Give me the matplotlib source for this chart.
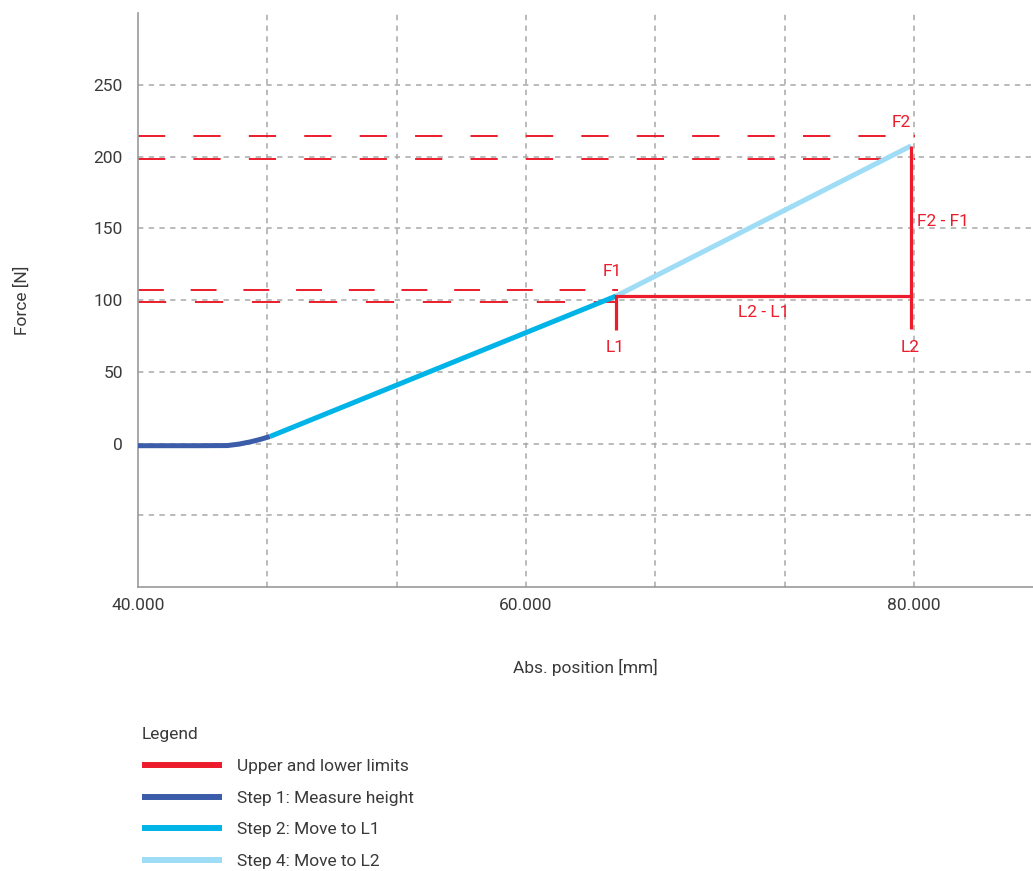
import matplotlib.pyplot as plt
import numpy as np

plt.rcParams['font.family'] = ['Roboto', 'DejaVu Sans']

step1_x = [40.0, 41.5, 43.0, 44.6, 45.2, 45.8, 46.3, 46.8]
step1_y = [-1.5, -1.5, -1.5, -1.4, -0.4, 1.2, 2.9, 4.9]
step2_x = [46.8, 64.64]
step2_y = [4.9, 102.8]
step4_x = [64.64, 79.85]
step4_y = [102.8, 207.5]

# limits
L1, L2 = 64.64, 79.85
F1, F2 = 102.8, 207.5
F1_lo, F1_hi = 98.5, 107.0
F2_lo, F2_hi = 198.5, 214.5
L1_low, L2_low = 79.0, 80.0

xticks = [40, 60, 80]
xtick_labels = ['40.000', '60.000', '80.000']
yticks = [0, 50, 100, 150, 200, 250]

red = '#ec1c2c'
dark_blue = '#3a5ca9'
cyan = '#00b4e8'
light_blue = '#9fdcf6'
grid_col = '#a8a8a8'
text_col = '#3a3a3a'
fs = 12.5

fig = plt.figure(figsize=(10.33, 8.71), dpi=100)
ax = fig.add_axes([0.1336, 0.326, 0.8664, 0.659])
ax.set_xlim(40, 86.13)
ax.set_ylim(-100, 300)

# grid
for gx in np.arange(40 + 20 / 3, 86, 20 / 3):
    ax.axvline(gx, color=grid_col, lw=1.1, dashes=(3.5, 3.5), zorder=0)
for gy in np.arange(-50, 251, 50):
    ax.axhline(gy, color=grid_col, lw=1.1, dashes=(3.5, 3.5), zorder=0)

# limit bands
ax.plot([40, L2 + 0.2], [F2_hi, F2_hi], color=red, lw=1.4, dashes=(14, 14.5), zorder=2)
ax.plot([40, L2 + 0.2], [F2_lo, F2_lo], color=red, lw=1.4, dashes=(14, 14.5), zorder=2)
ax.plot([40, L1 + 0.1], [F1_hi, F1_hi], color=red, lw=1.4, dashes=(13.3, 13.8), zorder=2)
ax.plot([40, L1 + 0.1], [F1_lo, F1_lo], color=red, lw=1.4, dashes=(14.5, 14.8), zorder=2)

# curve
ax.plot(step1_x, step1_y, color=dark_blue, lw=3.6, solid_capstyle='butt', zorder=3)
ax.plot(step2_x, step2_y, color=cyan, lw=3.6, solid_capstyle='butt', zorder=3)
ax.plot(step4_x, step4_y, color=light_blue, lw=3.6, solid_capstyle='butt', zorder=3)

# L / F markers
ax.plot([L1, L2], [F1, F1], color=red, lw=2.3, zorder=4)
ax.plot([L1, L1], [L1_low, F1], color=red, lw=2.3, solid_capstyle='butt', zorder=4)
ax.plot([L2, L2], [L2_low, F2], color=red, lw=2.3, solid_capstyle='butt', zorder=4)

ax.text(L1 - 0.2, 120, 'F1', color=red, fontsize=fs, ha='center', va='center')
ax.text(L1 - 0.05, 67, 'L1', color=red, fontsize=fs, ha='center', va='center')
ax.text(L2 - 0.5, 224, 'F2', color=red, fontsize=fs, ha='center', va='center')
ax.text(L2 - 0.05, 67, 'L2', color=red, fontsize=fs, ha='center', va='center')
ax.text(L2 + 0.3, 155, 'F2 - F1', color=red, fontsize=fs, ha='left', va='center')
ax.text((L1 + L2) / 2, 91, 'L2 - L1', color=red, fontsize=fs, ha='center', va='center')

# axes styling
for s in ['top', 'right']:
    ax.spines[s].set_visible(False)
for s in ['left', 'bottom']:
    ax.spines[s].set_color('#999999')
    ax.spines[s].set_linewidth(1.2)
ax.set_xticks(xticks)
ax.set_xticklabels(xtick_labels)
ax.set_yticks(yticks)
ax.tick_params(length=0, labelsize=fs, colors=text_col, pad=8)
ax.tick_params(axis='y', pad=11)
ax.set_xlabel('Abs. position [mm]', fontsize=fs, color=text_col, labelpad=33)
ax.set_ylabel('Force [N]', fontsize=fs, color=text_col, labelpad=46)

# legend
handles = [
    plt.Line2D([], [], color=red, lw=4.3, solid_capstyle='butt'),
    plt.Line2D([], [], color=dark_blue, lw=4.3, solid_capstyle='butt'),
    plt.Line2D([], [], color=cyan, lw=4.3, solid_capstyle='butt'),
    plt.Line2D([], [], color=light_blue, lw=4.3, solid_capstyle='butt'),
]
labels = ['Upper and lower limits', 'Step 1: Measure height',
          'Step 2: Move to L1', 'Step 4: Move to L2']
leg = fig.legend(handles, labels, loc='upper left', bbox_to_anchor=(0.1282, 0.176),
                 frameon=False, title='Legend', alignment='left', fontsize=fs,
                 title_fontsize=fs, handlelength=4.6, handletextpad=0.9,
                 labelspacing=0.955, borderpad=0.55, borderaxespad=0)
for t in leg.get_texts():
    t.set_color(text_col)
leg.get_title().set_color(text_col)

fig.savefig('out.png', dpi=100)
